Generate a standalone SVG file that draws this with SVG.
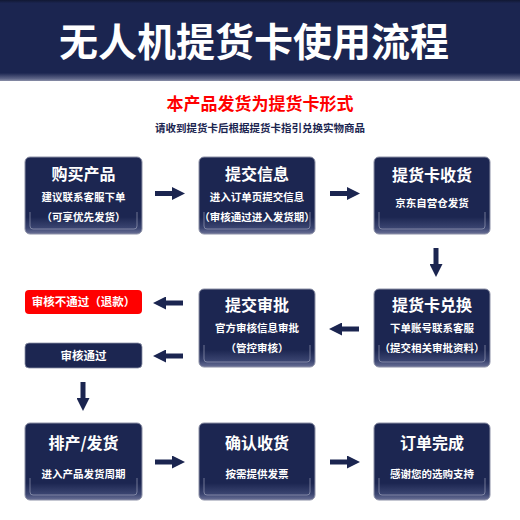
<svg xmlns="http://www.w3.org/2000/svg" width="520" height="520" viewBox="0 0 520 520">
<defs>
<linearGradient id="boxg" x1="0" y1="0" x2="0" y2="1">
<stop offset="0" stop-color="#1c2651"/>
<stop offset="0.78" stop-color="#1c2651"/>
<stop offset="0.92" stop-color="#3a4470"/>
<stop offset="1" stop-color="#6a7096"/>
</linearGradient>
<linearGradient id="headg" x1="0" y1="0" x2="0" y2="1">
<stop offset="0" stop-color="#111833"/>
<stop offset="0.04" stop-color="#1b2550"/>
<stop offset="0.9" stop-color="#1b2550"/>
<stop offset="0.97" stop-color="#5c6386"/>
<stop offset="1" stop-color="#8a8fa8"/>
</linearGradient>
<marker id="ah" viewBox="0 0 10 10" refX="0" refY="5" markerWidth="2.6" markerHeight="2.6" markerUnits="strokeWidth" orient="auto">
<path d="M0,0 L10,5 L0,10 Z" fill="#1b2550"/>
</marker>
</defs>
<style>
.box{fill:url(#boxg);stroke:#8c90a6;stroke-width:1}
.inner{fill:none;stroke:#a7abc2;stroke-opacity:0.6;stroke-width:1}
.t{font-family:"Noto Sans CJK SC","Noto Sans",sans-serif;fill:#ffffff;text-anchor:middle;font-weight:bold}
.h{font-size:16px}
.s{font-size:10.5px}
.a{stroke:#1b2550;stroke-width:5;fill:none;marker-end:url(#ah)}
</style>
<rect x="0" y="0" width="520" height="520" fill="#ffffff"/>
<g id="header">
<rect x="0" y="0" width="520" height="81" fill="url(#headg)"/>
<text x="254" y="56" class="t" style="font-size:39px">无人机提货卡使用流程</text>
<text x="260" y="110" text-anchor="middle" style="font-family:'Noto Sans CJK SC',sans-serif;font-size:17px;font-weight:bold;fill:#ff0000">本产品发货为提货卡形式</text>
<text x="260" y="132" text-anchor="middle" style="font-family:'Noto Sans CJK SC',sans-serif;font-size:10.5px;font-weight:bold;fill:#1b2550">请收到提货卡后根据提货卡指引兑换实物商品</text>
</g>
<g id="n1">
<rect class="box" x="25" y="157" width="117" height="77" rx="5"/>
<path class="inner" d="M30,212 V226 Q30,229 33,229 H134 Q137,229 137,226 V212"/>
<text class="t h" x="83.5" y="180">购买产品</text>
<text class="t s" x="83.5" y="201">建议联系客服下单</text>
<text class="t s" x="83.5" y="221">（可享优先发货）</text>
</g>
<g id="n2">
<rect class="box" x="199" y="157" width="116" height="77" rx="5"/>
<path class="inner" d="M204,212 V226 Q204,229 207,229 H307 Q310,229 310,226 V212"/>
<text class="t h" x="257" y="180">提交信息</text>
<text class="t s" x="257" y="201">进入订单页提交信息</text>
<text class="t s" x="257" y="221">（审核通过进入发货期）</text>
</g>
<g id="n3">
<rect class="box" x="374" y="157" width="116" height="77" rx="5"/>
<path class="inner" d="M379,212 V226 Q379,229 382,229 H482 Q485,229 485,226 V212"/>
<text class="t h" x="432" y="181">提货卡收货</text>
<text class="t s" x="432" y="207">京东自营仓发货</text>
</g>
<g id="n4">
<rect class="box" x="374" y="289" width="116" height="78" rx="5"/>
<path class="inner" d="M379,345 V359 Q379,362 382,362 H482 Q485,362 485,359 V345"/>
<text class="t h" x="432" y="311">提货卡兑换</text>
<text class="t s" x="432" y="332">下单账号联系客服</text>
<text class="t s" x="432" y="352">（提交相关审批资料）</text>
</g>
<g id="n5">
<rect class="box" x="199" y="289" width="116" height="78" rx="5"/>
<path class="inner" d="M204,345 V359 Q204,362 207,362 H307 Q310,362 310,359 V345"/>
<text class="t h" x="257" y="311">提交审批</text>
<text class="t s" x="257" y="332">官方审核信息审批</text>
<text class="t s" x="257" y="352">（管控审核）</text>
</g>
<g id="n6">
<rect x="25" y="290" width="117" height="24" rx="4" fill="#ff0000"/>
<text class="t" x="83.5" y="306" style="font-size:11.5px">审核不通过（退款）</text>
</g>
<g id="n7">
<rect x="25" y="343" width="117" height="25" rx="4" fill="#1c2651" stroke="#8c90a6" stroke-width="0.8"/>
<text class="t" x="83.5" y="360" style="font-size:11.5px">审核通过</text>
</g>
<g id="n8">
<rect class="box" x="25" y="423" width="117" height="77" rx="5"/>
<path class="inner" d="M30,478 V492 Q30,495 33,495 H134 Q137,495 137,492 V478"/>
<text class="t h" x="83.5" y="449">排产/发货</text>
<text class="t s" x="83.5" y="478">进入产品发货周期</text>
</g>
<g id="n9">
<rect class="box" x="199" y="423" width="116" height="77" rx="5"/>
<path class="inner" d="M204,478 V492 Q204,495 207,495 H307 Q310,495 310,492 V478"/>
<text class="t h" x="257" y="449">确认收货</text>
<text class="t s" x="257" y="478">按需提供发票</text>
</g>
<g id="n10">
<rect class="box" x="374" y="423" width="116" height="77" rx="5"/>
<path class="inner" d="M379,478 V492 Q379,495 382,495 H482 Q485,495 485,492 V478"/>
<text class="t h" x="432" y="449">订单完成</text>
<text class="t s" x="432" y="478">感谢您的选购支持</text>
</g>
<g id="connectors">
<line class="a" x1="155" y1="193.5" x2="172" y2="193.5"/>
<line class="a" x1="330" y1="193.5" x2="347" y2="193.5"/>
<line class="a" x1="436" y1="248" x2="436" y2="264"/>
<line class="a" x1="359" y1="329" x2="342" y2="329"/>
<line class="a" x1="183" y1="303" x2="166" y2="303"/>
<line class="a" x1="183" y1="356" x2="166" y2="356"/>
<line class="a" x1="83" y1="382" x2="83" y2="398"/>
<line class="a" x1="155" y1="462" x2="172" y2="462"/>
<line class="a" x1="330" y1="462" x2="347" y2="462"/>
</g>
</svg>
